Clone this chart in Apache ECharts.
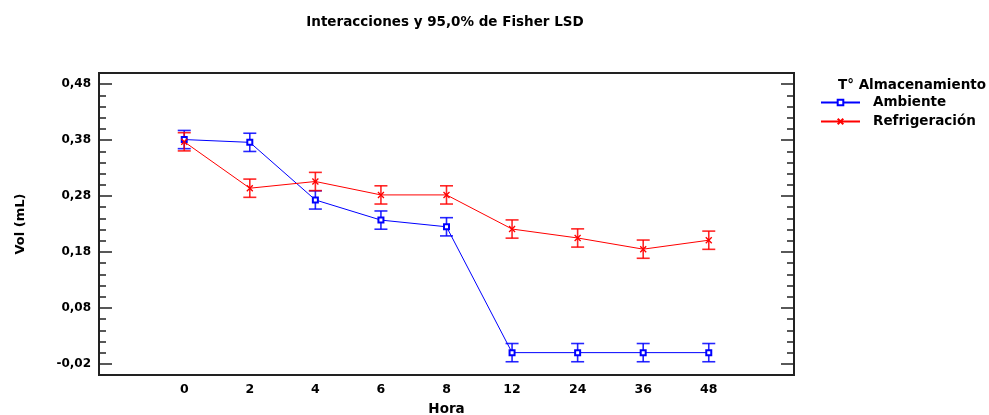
<!DOCTYPE html>
<html>
<head>
<meta charset="utf-8">
<script src="https://cdn.jsdelivr.net/npm/echarts@6/dist/echarts.min.js"></script>
<style>html,body{margin:0;padding:0;background:#fff}#c{width:989px;height:415px}</style>
</head>
<body>
<div id="c"></div>
<script>
const hours = ['0', '2', '4', '6', '8', '12', '24', '36', '48'];
const ambiente = [0.381, 0.376, 0.273, 0.237, 0.225, 0.0, 0.0, 0.0, 0.0];
const refrigeracion = [0.377, 0.294, 0.306, 0.282, 0.282, 0.221, 0.205, 0.185, 0.201];
const errAmbiente = [0.0163, 0.0163, 0.0163, 0.0163, 0.0163, 0.0163, 0.0163, 0.0163, 0.0163];
const errRefrigeracion = [0.0163, 0.0163, 0.0163, 0.0163, 0.0163, 0.0163, 0.0163, 0.0163, 0.0163];
const yMajorTicks = [-0.02, 0.08, 0.18, 0.28, 0.38, 0.48];

const FONT = 'DejaVu Sans';
const BLUE = '#0000ff', RED = '#ff0000', AX = '#222222';

function errData(vals, errs) {
  return vals.map((v, i) => [i, v - errs[i], v + errs[i]]);
}
function errRender(color) {
  return function (params, api) {
    const x = api.value(0);
    const top = api.coord([x, api.value(2)]);
    const bot = api.coord([x, api.value(1)]);
    const w = 6.5;
    const st = { stroke: color, lineWidth: 1.6, opacity: 0.85 };
    return {
      type: 'group',
      children: [
        { type: 'line', shape: { x1: top[0], y1: top[1], x2: bot[0], y2: bot[1] }, style: st },
        { type: 'line', shape: { x1: top[0] - w, y1: top[1], x2: top[0] + w, y2: top[1] }, style: st },
        { type: 'line', shape: { x1: bot[0] - w, y1: bot[1], x2: bot[0] + w, y2: bot[1] }, style: st }
      ]
    };
  };
}

const yBase = {
  type: 'value', min: -0.04, max: 0.5,
  axisLine: { show: false, onZero: false }, splitLine: { show: false }
};

const chart = echarts.init(document.getElementById('c'));
chart.setOption({
  animation: false,
  backgroundColor: '#ffffff',
  textStyle: { fontFamily: FONT },
  grid: { left: 99, right: 195, top: 73, bottom: 40, show: true, borderColor: AX, borderWidth: 2, backgroundColor: 'transparent', outerBoundsMode: 'none', containLabel: false },
  graphic: [
    { type: 'text', x: 445, y: 22, style: { text: 'Interacciones y 95,0% de Fisher LSD', font: 'bold 13.5px "DejaVu Sans"', fill: '#000', align: 'center', verticalAlign: 'middle' } },
    { type: 'text', x: 838, y: 85, style: { text: 'T° Almacenamiento', font: 'bold 13.5px "DejaVu Sans"', fill: '#000', align: 'left', verticalAlign: 'middle' } }
  ],
  legend: {
    orient: 'vertical', left: 815, top: 90.5, padding: 5,
    itemWidth: 39, itemHeight: 7, itemGap: 5,
    textStyle: { fontFamily: FONT, fontWeight: 'bold', fontSize: 13.5, color: '#000', padding: [0, 0, 0, 8] },
    data: ['Ambiente', 'Refrigeración']
  },
  xAxis: {
    type: 'value', min: -1.3, max: 9.3,
    axisLine: { show: false, onZero: false }, axisTick: { show: false }, splitLine: { show: false },
    axisLabel: {
      customValues: hours.map((h, i) => i),
      formatter: v => hours[Math.round(v)] || '',
      fontFamily: FONT, fontWeight: 'bold', fontSize: 12.5, color: '#000', margin: 8
    },
    name: 'Hora', nameLocation: 'middle', nameGap: 27,
    nameTextStyle: { fontFamily: FONT, fontWeight: 'bold', fontSize: 13.5, color: '#000' }
  },
  yAxis: [
    Object.assign({}, yBase, {
      position: 'left',
      axisTick: { show: true, inside: true, length: 13, customValues: yMajorTicks, lineStyle: { color: AX, width: 1.5 } },
      axisLabel: {
        customValues: yMajorTicks,
        formatter: v => v.toFixed(2).replace('.', ','),
        fontFamily: FONT, fontWeight: 'bold', fontSize: 12, color: '#000', margin: 8
      },
      name: 'Vol (mL)', nameLocation: 'middle', nameGap: 72,
      nameTextStyle: { fontFamily: FONT, fontWeight: 'bold', fontSize: 13, color: '#000' }
    }),
    Object.assign({}, yBase, {
      position: 'left', interval: 0.02,
      axisTick: { show: true, inside: true, length: 7, lineStyle: { color: AX, width: 1.5 } },
      axisLabel: { show: false }
    }),
    Object.assign({}, yBase, {
      position: 'right', offset: 0,
      axisTick: { show: true, inside: true, length: 13, customValues: yMajorTicks, lineStyle: { color: AX, width: 1.5 } },
      axisLabel: { show: false }
    }),
    Object.assign({}, yBase, {
      position: 'right', offset: 0, interval: 0.02,
      axisTick: { show: true, inside: true, length: 7, lineStyle: { color: AX, width: 1.5 } },
      axisLabel: { show: false }
    })
  ],
  series: [
    {
      name: 'Ambiente', type: 'line', yAxisIndex: 0,
      data: ambiente.map((v, i) => [i, v]),
      symbol: 'emptyRect', symbolSize: 5, showSymbol: true,
      lineStyle: { color: BLUE, width: 1 },
      itemStyle: { color: BLUE, borderColor: BLUE, borderWidth: 1 },
      z: 3
    },
    {
      name: 'Refrigeración', type: 'line', yAxisIndex: 0,
      data: refrigeracion.map((v, i) => [i, v]),
      symbol: 'path://M0,0L10,10M10,0L0,10', symbolSize: 6, showSymbol: true,
      lineStyle: { color: RED, width: 1 },
      itemStyle: { color: RED, borderColor: RED, borderWidth: 1.3 },
      z: 3
    },
    {
      type: 'custom', yAxisIndex: 0, renderItem: errRender(BLUE),
      data: errData(ambiente, errAmbiente), encode: { x: 0, y: [1, 2] }, z: 2
    },
    {
      type: 'custom', yAxisIndex: 0, renderItem: errRender(RED),
      data: errData(refrigeracion, errRefrigeracion), encode: { x: 0, y: [1, 2] }, z: 2
    }
  ]
});
</script>
</body>
</html>
